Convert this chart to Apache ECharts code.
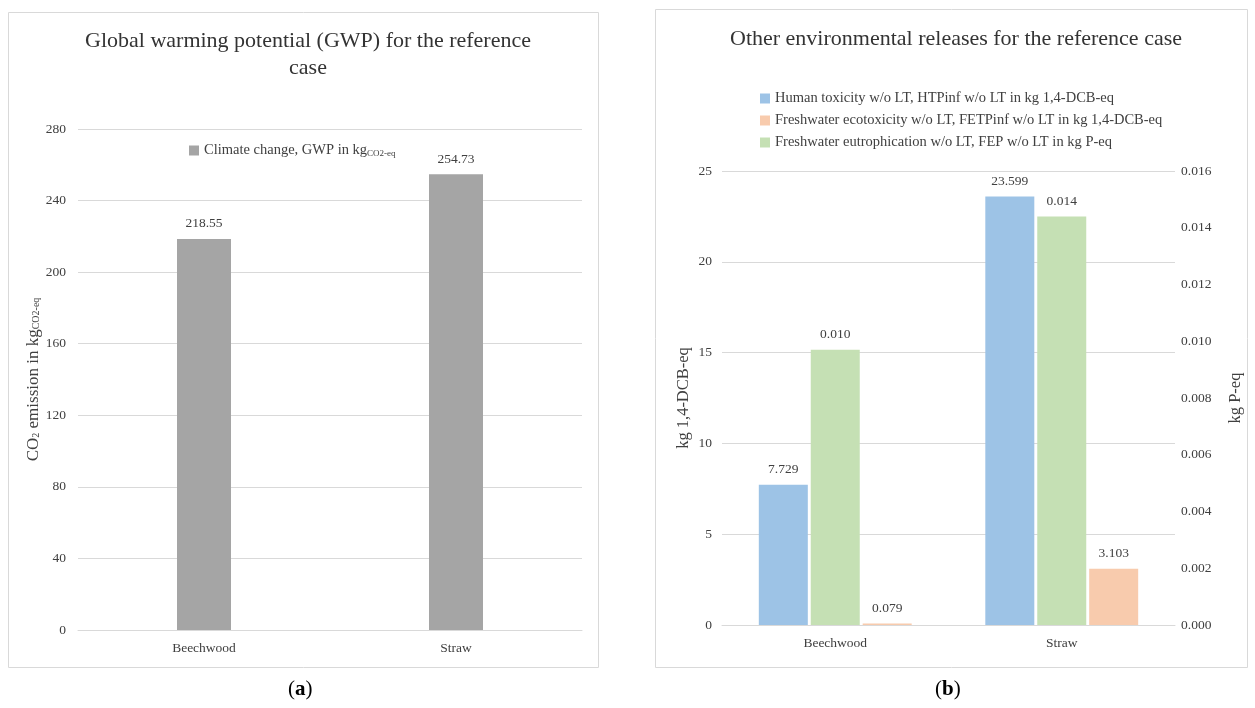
<!DOCTYPE html>
<html>
<head>
<meta charset="utf-8">
<script src="https://cdn.jsdelivr.net/npm/echarts@6/dist/echarts.min.js"></script>
<style>
  html, body { margin: 0; padding: 0; background: #fff; }
  #chart { width: 1255px; height: 708px; }
</style>
</head>
<body>
<div id="chart"></div>
<script>
// values
const categories = ["Beechwood", "Straw"];
const gwp = [218.55, 254.73];
const humanTox = [7.729, 23.599];      // kg 1,4-DCB-eq (left axis)
const freshEcotox = [0.079, 3.103];    // kg 1,4-DCB-eq (left axis)
const freshEutro = [0.0097, 0.0144];   // kg P-eq (right axis)

const serif = "Liberation Serif";
const txt = "#404040";
const gridColor = "#d9d9d9";
const tickSize = 13.5;

const subStyle = { fontSize: 9, fontFamily: serif, color: txt, padding: [6, 0, 0, 0] };
const subStyleRot = { fontSize: 10, fontFamily: serif, color: txt, padding: [7, 0, 0, 0] };

let chart = echarts.init(document.getElementById("chart"));

let barLabel = digits => ({
  show: true, position: "top", distance: 8,
  fontFamily: serif, fontSize: tickSize, color: txt,
  formatter: p => p.value.toFixed(digits)
});

let option = {
  animation: false,
  textStyle: { fontFamily: serif, color: txt },
  title: [
    {
      text: "Global warming potential (GWP) for the reference\ncase",
      left: 303,
      top: 23,
      textAlign: "center",
      textStyle: { fontFamily: serif, fontSize: 22, fontWeight: "normal", color: "#333", lineHeight: 27 }
    },
    {
      text: "Other environmental releases for the reference case",
      left: 951,
      top: 23,
      textAlign: "center",
      textStyle: { fontFamily: serif, fontSize: 22, fontWeight: "normal", color: "#333" }
    }
  ],
  legend: [
    {
      data: ["gwp"],
      left: 184,
      top: 138,
      icon: "rect",
      itemWidth: 10,
      itemHeight: 10,
      formatter: () => "Climate change, GWP in kg{sub|CO2-eq}",
      textStyle: { fontFamily: serif, fontSize: 14.5, color: txt, rich: { sub: subStyle } }
    },
    {
      data: ["ht", "fet", "fep"],
      orient: "vertical",
      left: 755,
      top: 86,
      icon: "rect",
      itemGap: 7,
      itemWidth: 10,
      itemHeight: 10,
      formatter: function (name) {
        return {
          ht: "Human toxicity w/o LT, HTPinf w/o LT in kg 1,4-DCB-eq",
          fet: "Freshwater ecotoxicity w/o LT, FETPinf w/o LT in kg 1,4-DCB-eq",
          fep: "Freshwater eutrophication w/o LT, FEP w/o LT in kg P-eq"
        }[name];
      },
      textStyle: { fontFamily: serif, fontSize: 14.5, color: txt }
    }
  ],
  grid: [
    { left: 78, right: 673, top: 129, bottom: 78 },
    { left: 722, right: 80, top: 171, bottom: 83 }
  ],
  xAxis: [
    {
      gridIndex: 0,
      type: "category",
      data: categories,
      axisTick: { show: false },
      axisLine: { lineStyle: { color: gridColor } },
      axisLabel: { fontFamily: serif, fontSize: tickSize, color: txt, margin: 11 }
    },
    {
      gridIndex: 1,
      type: "category",
      data: categories,
      axisTick: { show: false },
      axisLine: { lineStyle: { color: gridColor } },
      axisLabel: { fontFamily: serif, fontSize: tickSize, color: txt, margin: 11 }
    }
  ],
  yAxis: [
    {
      gridIndex: 0,
      type: "value",
      min: 0,
      max: 280,
      interval: 40,
      axisLine: { show: false },
      axisTick: { show: false },
      splitLine: { lineStyle: { color: gridColor } },
      axisLabel: { fontFamily: serif, fontSize: tickSize, color: txt, margin: 12 },
      name: "CO{sub|2} emission in kg{sub|CO2-eq}",
      nameLocation: "middle",
      nameGap: 36,
      nameTextStyle: { fontFamily: serif, fontSize: 17, color: txt, rich: { sub: subStyleRot } }
    },
    {
      gridIndex: 1,
      type: "value",
      min: 0,
      max: 25,
      interval: 5,
      axisLine: { show: false },
      axisTick: { show: false },
      splitLine: { lineStyle: { color: gridColor } },
      axisLabel: { fontFamily: serif, fontSize: tickSize, color: txt, margin: 10 },
      name: "kg 1,4-DCB-eq",
      nameLocation: "middle",
      nameGap: 30,
      nameTextStyle: { fontFamily: serif, fontSize: 16.5, color: txt }
    },
    {
      gridIndex: 1,
      type: "value",
      position: "right",
      min: 0,
      max: 0.016,
      interval: 0.002,
      axisLine: { show: false },
      axisTick: { show: false },
      splitLine: { show: false },
      axisLabel: { fontFamily: serif, fontSize: tickSize, color: txt, margin: 6, formatter: v => v.toFixed(3) },
      name: "kg P-eq",
      nameLocation: "middle",
      nameGap: 52,
      nameTextStyle: { fontFamily: serif, fontSize: 16.5, color: txt }
    }
  ],
  series: [
    {
      name: "gwp",
      type: "bar",
      xAxisIndex: 0,
      yAxisIndex: 0,
      barWidth: 54,
      itemStyle: { color: "#a5a5a5" },
      label: barLabel(2),
      data: gwp
    },
    {
      name: "ht",
      type: "bar",
      xAxisIndex: 1,
      yAxisIndex: 1,
      barWidth: 49,
      barGap: "6%",
      itemStyle: { color: "#9dc3e6" },
      label: barLabel(3),
      data: humanTox
    },
    {
      name: "fep",
      type: "bar",
      xAxisIndex: 1,
      yAxisIndex: 2,
      barWidth: 49,
      barGap: "6%",
      itemStyle: { color: "#c5e0b4" },
      label: barLabel(3),
      data: freshEutro
    },
    {
      name: "fet",
      type: "bar",
      xAxisIndex: 1,
      yAxisIndex: 1,
      barWidth: 49,
      barGap: "6%",
      itemStyle: { color: "#f8cbad" },
      label: barLabel(3),
      data: freshEcotox
    }
  ],
  graphic: [
    { type: "rect", shape: { x: 8.5, y: 12.5, width: 590, height: 655 }, style: { fill: "none", stroke: gridColor, lineWidth: 1 }, z: -1 },
    { type: "rect", shape: { x: 655.5, y: 9.5, width: 592, height: 658 }, style: { fill: "none", stroke: gridColor, lineWidth: 1 }, z: -1 },
    {
      type: "text", left: 288, top: 679,
      style: { text: "({b|a})", fontFamily: serif, fontSize: 21, fill: "#000", rich: { b: { fontWeight: "bold", fontSize: 21, fontFamily: serif } } }
    },
    {
      type: "text", left: 935, top: 679,
      style: { text: "({b|b})", fontFamily: serif, fontSize: 21, fill: "#000", rich: { b: { fontWeight: "bold", fontSize: 21, fontFamily: serif } } }
    }
  ]
};

chart.setOption(option);
</script>
</body>
</html>
